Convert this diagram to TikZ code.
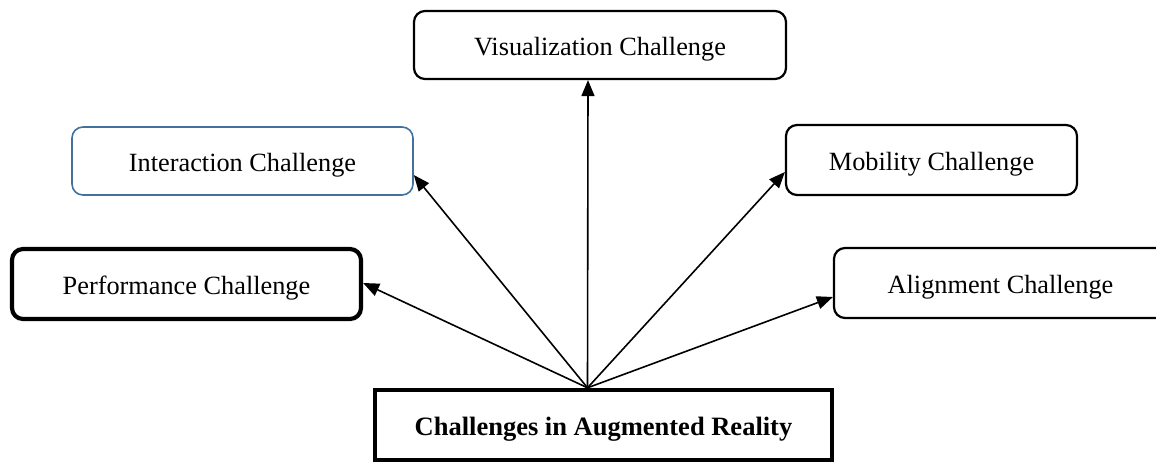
\documentclass[tikz,border=0pt]{standalone}
\usepackage{fontspec}
\setmainfont{Liberation Serif}
\usetikzlibrary{arrows.meta,calc}
\definecolor{steelblue}{HTML}{41719C}
\begin{document}
\begin{tikzpicture}[x=1pt,y=-1pt,
  box/.style={draw=black, rounded corners=11pt, line width=2.2pt, inner sep=0pt,
    text height=20pt, text depth=0pt,
    font=\fontsize{26.3}{30}\selectfont},
  heavy/.style={box, line width=4.2pt},
  root/.style={draw=black, line width=4.4pt, inner sep=0pt,
    text height=20pt, text depth=0pt,
    font=\fontsize{26.5}{30}\selectfont\bfseries},
  link/.style={line width=1.6pt, -{Triangle[length=16pt,width=13pt]}}]
\useasboundingbox (0,0) rectangle (1156,463);
\clip (0,0) rectangle (1156,463);

% challenge boxes
\node[box, minimum width=372pt, minimum height=68pt] (vis) at (600,45) {Visualization Challenge};
\node[box, draw=steelblue, line width=1.6pt, minimum width=341pt, minimum height=68pt] (inter) at (242.5,161) {Interaction Challenge};
\node[heavy, minimum width=349pt, minimum height=70pt] (perf) at (186.5,284) {Performance Challenge};
\node[box, minimum width=291pt, minimum height=70pt] (mob) at (931.5,160) {Mobility Challenge};
\node[box, minimum width=333pt, minimum height=70pt] (align) at (1000.5,283) {Alignment Challenge};

% central topic
\node[root, minimum width=457pt, minimum height=70pt] (center) at (603.5,425) {Challenges in Augmented Reality};

% common origin of all arrows
\coordinate (hub) at ($(center.north)+(-16,0)$);

\draw[link] (hub) -- ($(vis.south)+(-12,0)$);
\draw[link] (hub) -- ($(inter.east)+(0,14)$);
\draw[link] (hub) -- ($(perf.east)+(0,-1)$);
\draw[link] (hub) -- ($(mob.west)+(0,12)$);
\draw[link] (hub) -- ($(align.west)+(0,14)$);
\end{tikzpicture}
\end{document}
